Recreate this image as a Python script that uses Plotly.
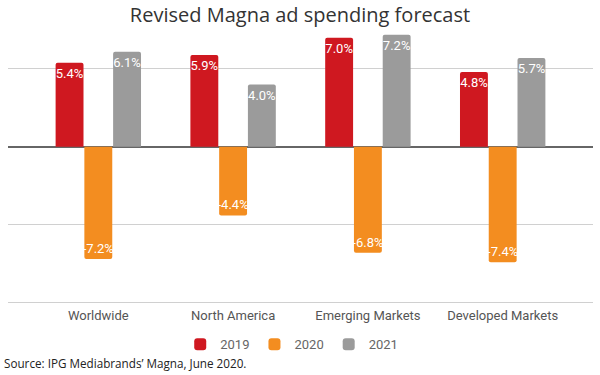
import plotly.graph_objects as go

categories = ["Worldwide", "North America", "Emerging Markets", "Developed Markets"]
years = ["2019", "2020", "2021"]
values_2019 = [5.4, 5.9, 7.0, 4.8]
values_2020 = [-7.2, -4.4, -6.8, -7.4]
values_2021 = [6.1, 4.0, 7.2, 5.7]
colors = ["#CF1820", "#F38D20", "#9B9B9B"]

series = [values_2019, values_2020, values_2021]

fig = go.Figure()
for name, vals, col in zip(years, series, colors):
    fig.add_trace(go.Bar(
        x=categories, y=vals, name=name,
        marker=dict(color=col, line=dict(width=0), cornerradius=2),
        text=[f"{v:.1f}%" for v in vals],
        textposition="inside", insidetextanchor="end",
        textangle=0, constraintext="none",
        textfont=dict(family="Roboto", size=13, color="white"),
        cliponaxis=False,
    ))

fig.update_layout(
    width=600, height=375,
    margin=dict(l=8, r=7, t=30, b=70),
    paper_bgcolor="white", plot_bgcolor="white",
    barmode="group", bargap=0.36, bargroupgap=0.03,
    title=dict(text="Revised Magna ad spending forecast",
               font=dict(family="Open Sans", size=20, color="#333333"),
               x=0.5, xanchor="center", y=0.96, yanchor="middle", xref="container", yref="container"),
    xaxis=dict(range=[-0.67, 3.67], showgrid=False, showline=False, ticks="", automargin=False,
               ticklabelstandoff=1,
               tickfont=dict(family="Roboto", size=13, color="#555555")),
    yaxis=dict(range=[-10.15, 7.5], tickvals=[-10, -5, 0, 5], showticklabels=False,
               gridcolor="#D0D0D0", automargin=False,
               gridwidth=1, zeroline=True, zerolinecolor="#666666", zerolinewidth=1.5),
    legend=dict(orientation="h", x=0.485, xanchor="center", y=-0.143, yanchor="middle",
                font=dict(family="Roboto", size=13, color="#666666")),
    showlegend=True,
    hovermode=False,
    annotations=[dict(text="Source: IPG Mediabrands’ Magna, June 2020.", xref="paper", yref="paper",
                      x=-0.011, y=-0.2125, xanchor="left", yanchor="middle", showarrow=False,
                      font=dict(family="Open Sans", size=11.7, color="#222222"))],
)

fig.write_html("out.html", config={"displayModeBar": False},
               post_script="document.body.style.margin='0';")
